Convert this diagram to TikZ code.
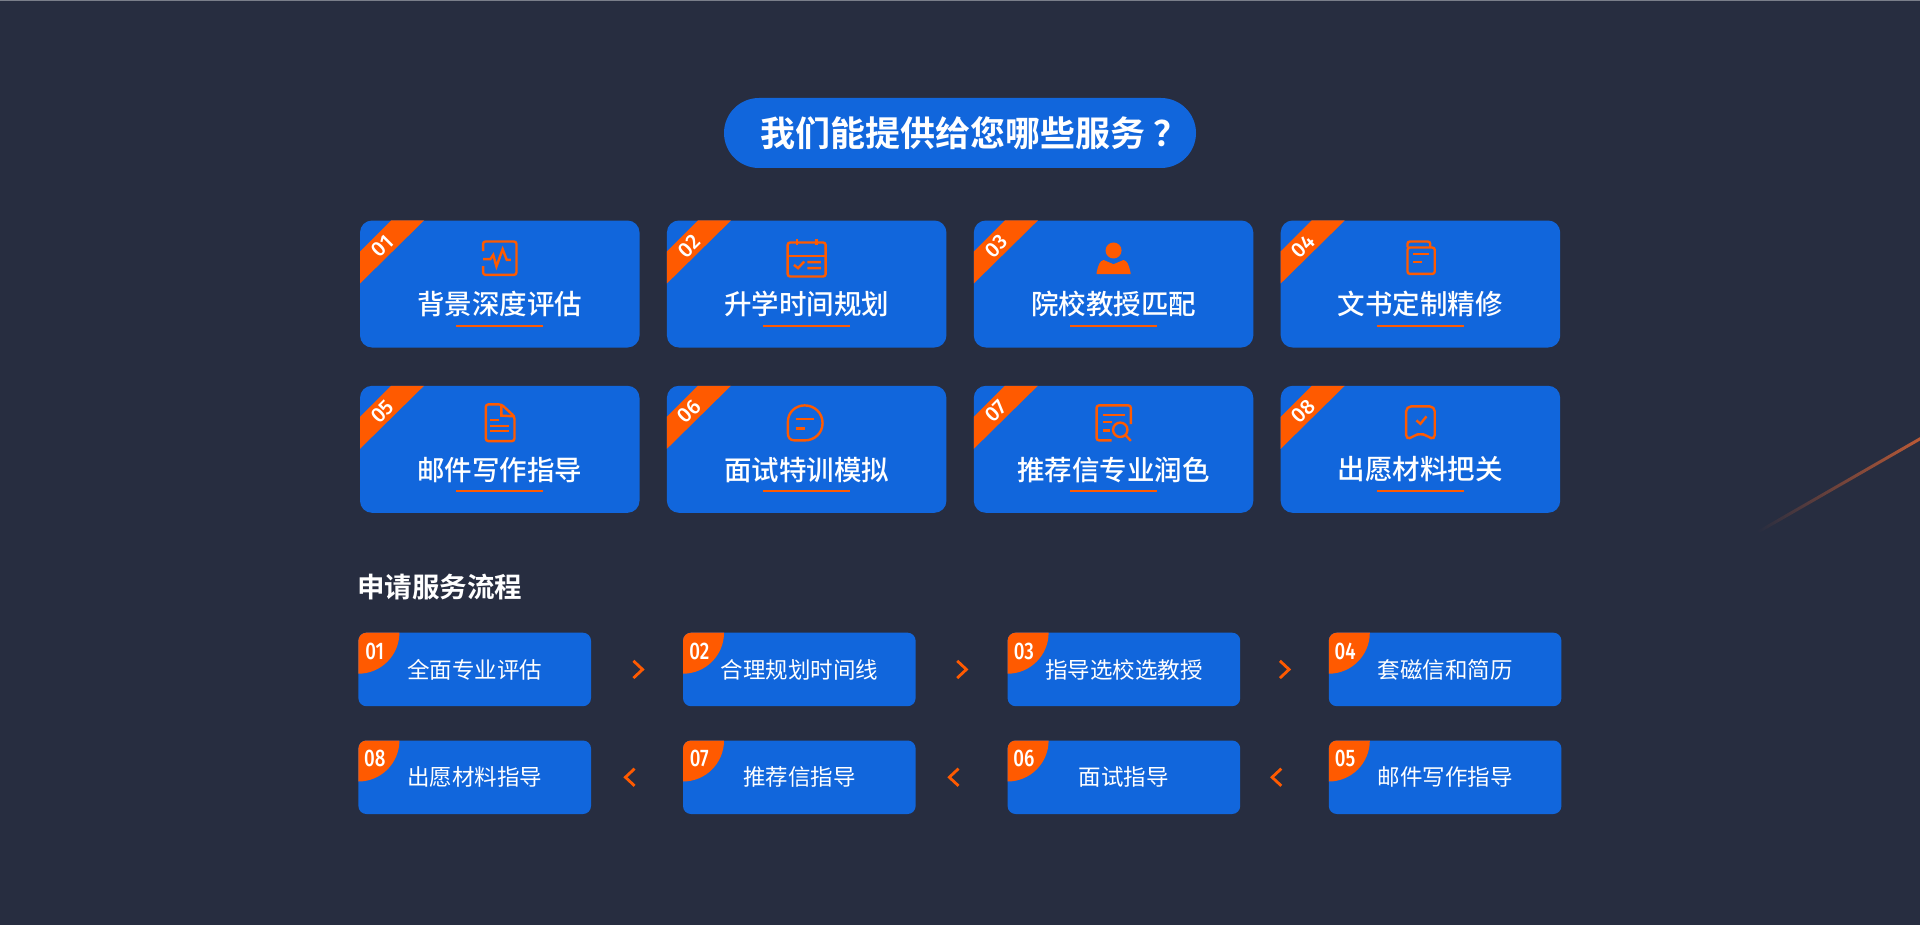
\documentclass[tikz,border=0pt]{standalone}
\usepackage{fontspec}
\usetikzlibrary{matrix, positioning}
\newfontfamily\cjkreg{Noto Sans CJK SC}
\newfontfamily\cjkmed{Noto Sans CJK SC Medium}
\newfontfamily\cjkbold{Noto Sans CJK SC Bold}
\newfontfamily\numfont[FakeStretch=0.78]{Fira Sans Medium}
\newfontfamily\ribfont{Fira Sans Medium}
\definecolor{pagebg}{HTML}{272D40}
\definecolor{pagetop}{HTML}{7A7E8A}
\definecolor{boxblue}{HTML}{1166DC}
\definecolor{hotorange}{HTML}{FF5A00}
\definecolor{streakend}{HTML}{BC5A36}
\tikzset{
  card/.style={fill=boxblue, rounded corners=12pt, minimum width=279.5pt, minimum height=127pt, inner sep=0pt, outer sep=0pt},
  stepbox/.style={fill=boxblue, rounded corners=8pt, minimum width=232.6pt, minimum height=73.5pt, inner sep=0pt, outer sep=0pt},
  cardtext/.style={text=white, inner sep=0pt, font=\cjkmed\fontsize{27.5}{27.5}\selectfont},
  steptext/.style={text=white, inner sep=0pt, font=\cjkreg\fontsize{22.5}{22.5}\selectfont},
  bandnum/.style={text=white, inner sep=0pt, rotate=45, font=\ribfont\fontsize{21}{21}\selectfont},
  stepnum/.style={text=white, inner sep=0pt, font=\numfont\fontsize{24}{24}\selectfont},
  bar/.style={draw=hotorange, line width=2.2pt},
  band/.style={fill=hotorange},
  iconline/.style={draw=hotorange, line width=2.4pt},
  icon/.style={iconline, rounded corners=2.5pt},
  chevron/.style={draw=hotorange, line width=2.8pt}
}
\begin{document}
\begin{tikzpicture}[x=1pt, y=-1pt]
\useasboundingbox (0,0) rectangle (1920,925);
\fill[pagebg] (0,0) rectangle (1920,925);
\fill[pagetop] (0,0) rectangle (1920,1);
% streak on the right edge
\begin{scope}
\clip (0,0) rectangle (1920,925);
\begin{scope}[shift={(1758,532)}, rotate=29.9]
\shade[left color=pagebg, right color=streakend] (0,-1.5) rectangle (187.5,1.5);
\end{scope}
\end{scope}
% heading
\node[fill=boxblue, rounded corners=35pt, minimum width=472pt, minimum height=70pt, inner sep=0pt] (pill) at (960,133) {};
\node[text=white, inner sep=0pt, anchor=west, font=\cjkbold\fontsize{35}{35}\selectfont] (title) at (760,133) {我们能提供给您哪些服务\hspace{8pt}？};
% service cards
\matrix (cards) [anchor=north west, inner sep=0pt, outer sep=0pt, column sep=27.4pt, row sep=38.3pt] at (360,220.5) {
\node[card](c1){}; & \node[card](c2){}; & \node[card](c3){}; & \node[card](c4){}; \\
\node[card](c5){}; & \node[card](c6){}; & \node[card](c7){}; & \node[card](c8){}; \\
};
\fill[band] ([xshift=31pt]c1.north west) -- ([xshift=64pt]c1.north west) -- ([yshift=-63pt]c1.north west) -- ([yshift=-31pt]c1.north west) -- cycle;
\fill[band] ([xshift=31pt]c2.north west) -- ([xshift=64pt]c2.north west) -- ([yshift=-63pt]c2.north west) -- ([yshift=-31pt]c2.north west) -- cycle;
\fill[band] ([xshift=31pt]c3.north west) -- ([xshift=64pt]c3.north west) -- ([yshift=-63pt]c3.north west) -- ([yshift=-31pt]c3.north west) -- cycle;
\fill[band] ([xshift=31pt]c4.north west) -- ([xshift=64pt]c4.north west) -- ([yshift=-63pt]c4.north west) -- ([yshift=-31pt]c4.north west) -- cycle;
\fill[band] ([xshift=31pt]c5.north west) -- ([xshift=64pt]c5.north west) -- ([yshift=-63pt]c5.north west) -- ([yshift=-31pt]c5.north west) -- cycle;
\fill[band] ([xshift=31pt]c6.north west) -- ([xshift=64pt]c6.north west) -- ([yshift=-63pt]c6.north west) -- ([yshift=-31pt]c6.north west) -- cycle;
\fill[band] ([xshift=31pt]c7.north west) -- ([xshift=64pt]c7.north west) -- ([yshift=-63pt]c7.north west) -- ([yshift=-31pt]c7.north west) -- cycle;
\fill[band] ([xshift=31pt]c8.north west) -- ([xshift=64pt]c8.north west) -- ([yshift=-63pt]c8.north west) -- ([yshift=-31pt]c8.north west) -- cycle;
\node[bandnum] (b1) at ([xshift=22.4pt,yshift=-25.7pt]c1.north west) {01};
\node[bandnum] (b2) at ([xshift=22.4pt,yshift=-25.7pt]c2.north west) {02};
\node[bandnum] (b3) at ([xshift=22.4pt,yshift=-25.7pt]c3.north west) {03};
\node[bandnum] (b4) at ([xshift=22.4pt,yshift=-25.7pt]c4.north west) {04};
\node[bandnum] (b5) at ([xshift=22.4pt,yshift=-25.7pt]c5.north west) {05};
\node[bandnum] (b6) at ([xshift=22.4pt,yshift=-25.7pt]c6.north west) {06};
\node[bandnum] (b7) at ([xshift=22.4pt,yshift=-25.7pt]c7.north west) {07};
\node[bandnum] (b8) at ([xshift=22.4pt,yshift=-25.7pt]c8.north west) {08};
\node[cardtext] (t1) at ([yshift=-83.8pt]c1.north) {背景深度评估};
\node[cardtext] (t2) at ([yshift=-83.8pt]c2.north) {升学时间规划};
\node[cardtext] (t3) at ([yshift=-83.8pt]c3.north) {院校教授匹配};
\node[cardtext] (t4) at ([yshift=-83.8pt]c4.north) {文书定制精修};
\node[cardtext] (t5) at ([yshift=-83.8pt]c5.north) {邮件写作指导};
\node[cardtext] (t6) at ([yshift=-83.8pt]c6.north) {面试特训模拟};
\node[cardtext] (t7) at ([yshift=-83.8pt]c7.north) {推荐信专业润色};
\node[cardtext] (t8) at ([yshift=-83.8pt]c8.north) {出愿材料把关};
\draw[bar] ([xshift=-43.5pt,yshift=-105.2pt]c1.north) -- ([xshift=43.5pt,yshift=-105.2pt]c1.north);
\draw[bar] ([xshift=-43.5pt,yshift=-105.2pt]c2.north) -- ([xshift=43.5pt,yshift=-105.2pt]c2.north);
\draw[bar] ([xshift=-43.5pt,yshift=-105.2pt]c3.north) -- ([xshift=43.5pt,yshift=-105.2pt]c3.north);
\draw[bar] ([xshift=-43.5pt,yshift=-105.2pt]c4.north) -- ([xshift=43.5pt,yshift=-105.2pt]c4.north);
\draw[bar] ([xshift=-43.5pt,yshift=-105.2pt]c5.north) -- ([xshift=43.5pt,yshift=-105.2pt]c5.north);
\draw[bar] ([xshift=-43.5pt,yshift=-105.2pt]c6.north) -- ([xshift=43.5pt,yshift=-105.2pt]c6.north);
\draw[bar] ([xshift=-43.5pt,yshift=-105.2pt]c7.north) -- ([xshift=43.5pt,yshift=-105.2pt]c7.north);
\draw[bar] ([xshift=-43.5pt,yshift=-105.2pt]c8.north) -- ([xshift=43.5pt,yshift=-105.2pt]c8.north);
% icons, each one about its own centre
\begin{scope}[shift={([yshift=-37.7pt]c1.north)}]
\draw[icon] (-16.7,-7) -- (-16.7,-16.7) -- (16.7,-16.7) -- (16.7,16.7) -- (-16.7,16.7) -- (-16.7,8);
\draw[iconline] (-16.7,1) -- (-9.4,1) -- (-6.5,-3.3) -- (-3.3,8.3) -- (2.9,-9) -- (7,1.7) -- (11,1.7);
\end{scope}
\begin{scope}[shift={([yshift=-37.7pt]c2.north)}]
\draw[icon] (-19,-15.7) rectangle (19,18.3);
\draw[iconline] (-19,-2.3) -- (19,-2.3) (-9.4,-19) -- (-9.4,-13) (9.8,-19) -- (9.8,-13);
\draw[iconline] (-12.7,6.7) -- (-8.6,10) -- (-2.4,3.3) (.8,4) -- (14.3,4) (.8,10) -- (14.3,10);
\end{scope}
\begin{scope}[shift={([yshift=-37.7pt]c3.north)}]
\fill[hotorange] (0,-7.7) ellipse (8 and 8);
\fill[hotorange] (-17,16) -- (-17,14.5) .. controls (-15,6) and (-14,3) .. (-10,1.8) -- (0,6) -- (10,1.8) .. controls (14,3) and (15,6) .. (17,14.5) -- (17,16) -- cycle;
\end{scope}
\begin{scope}[shift={([yshift=-37.7pt]c4.north)}]
\draw[icon] (-13,-10.7) rectangle (14.3,15.7);
\draw[icon] (-13,-10.7) -- (-13,-16.7) -- (9.8,-16.7) -- (9.8,-10.7);
\draw[iconline] (-7,-4.3) -- (8.6,-4.3) (-7,3.7) -- (2,3.7);
\end{scope}
\begin{scope}[shift={([yshift=-37.3pt]c5.north)}]
\draw[icon] (1.6,-18.7) -- (-13.9,-18.7) -- (-13.9,18) -- (14.7,18) -- (14.7,-6.7) -- cycle;
\draw[iconline] (1.6,-18.7) -- (1.6,-7.5) -- (14.7,-6.7);
\draw[iconline] (-9.4,-3.3) -- (-.4,-3.3) (-9.4,2.7) -- (9.4,2.7) (-9.4,8) -- (9.4,8);
\end{scope}
\begin{scope}[shift={([yshift=-37.3pt]c6.north)}]
\draw[iconline] (-18.8,-1) .. controls (-18.8,-11) and (-11,-17.7) .. (-2,-17.7) .. controls (8,-17.7) and (15.9,-10) .. (15.9,0) .. controls (15.9,10) and (8,17.3) .. (-2,17.3) -- (-12,17.3) .. controls (-17,17.3) and (-18.8,14) .. (-18.8,10) -- cycle;
\draw[iconline] (-11,-4) -- (7,-4) (-11,5.3) -- (-1.2,5.3);
\end{scope}
\begin{scope}[shift={([yshift=-37.3pt]c7.north)}]
\draw[icon] (17.3,1) -- (17.3,-17.7) -- (-17,-17.7) -- (-17,17.3) -- (-2,17.3);
\draw[iconline] (-11,-8.3) -- (11.6,-8.3) (-11,-1) -- (-1.4,-1) (-11,7.3) -- (-4,7.3);
\draw[iconline] (6.7,6.7) circle (7.2) (11.7,11.7) -- (17.3,17.8);
\end{scope}
\begin{scope}[shift={([yshift=-37.3pt]c8.north)}]
\draw[iconline, rounded corners=5pt] (-14.3,-16.7) -- (14.3,-16.7) -- (14.3,17) -- (7,13) -- (0,10) -- (-7,13) -- (-14.3,17) -- cycle;
\draw[iconline] (-4,-2.7) -- (0,.7) -- (6,-6.7);
\end{scope}
% process
\node[text=white, inner sep=0pt, anchor=west, font=\cjkbold\fontsize{27.5}{27.5}\selectfont] (flow) at (357,587.3) {申请服务流程};
\matrix (steps) [anchor=north west, inner sep=0pt, outer sep=0pt, column sep=92pt, row sep=34.3pt] at (358.4,632.7) {
\node[stepbox](p1){}; & \node[stepbox](p2){}; & \node[stepbox](p3){}; &[-3.4pt] \node[stepbox](p4){}; \\
\node[stepbox](p8){}; & \node[stepbox](p7){}; & \node[stepbox](p6){}; &[-3.4pt] \node[stepbox](p5){}; \\
};
\begin{scope}
\clip[rounded corners=8pt] (p1.north west) rectangle (p1.south east) (p2.north west) rectangle (p2.south east) (p3.north west) rectangle (p3.south east) (p4.north west) rectangle (p4.south east);
\fill[band] (p1.north west) circle (41) (p2.north west) circle (41) (p3.north west) circle (41) (p4.north west) circle (41);
\end{scope}
\begin{scope}
\clip[rounded corners=8pt] (p5.north west) rectangle (p5.south east) (p6.north west) rectangle (p6.south east) (p7.north west) rectangle (p7.south east) (p8.north west) rectangle (p8.south east);
\fill[band] (p5.north west) circle (41) (p6.north west) circle (41) (p7.north west) circle (41) (p8.north west) circle (41);
\end{scope}
\node[stepnum] (n1) at ([xshift=16.3pt,yshift=-18.3pt]p1.north west) {01};
\node[stepnum] (n2) at ([xshift=16.3pt,yshift=-18.3pt]p2.north west) {02};
\node[stepnum] (n3) at ([xshift=16.3pt,yshift=-18.3pt]p3.north west) {03};
\node[stepnum] (n4) at ([xshift=16.3pt,yshift=-18.3pt]p4.north west) {04};
\node[stepnum] (n5) at ([xshift=16.3pt,yshift=-18.3pt]p5.north west) {05};
\node[stepnum] (n6) at ([xshift=16.3pt,yshift=-18.3pt]p6.north west) {06};
\node[stepnum] (n7) at ([xshift=16.3pt,yshift=-18.3pt]p7.north west) {07};
\node[stepnum] (n8) at ([xshift=16.3pt,yshift=-18.3pt]p8.north west) {08};
\node[steptext] (s1) at (p1) {全面专业评估};
\node[steptext] (s2) at (p2) {合理规划时间线};
\node[steptext] (s3) at (p3) {指导选校选教授};
\node[steptext] (s4) at (p4) {套磁信和简历};
\node[steptext] (s5) at (p5) {邮件写作指导};
\node[steptext] (s6) at (p6) {面试指导};
\node[steptext] (s7) at (p7) {推荐信指导};
\node[steptext] (s8) at (p8) {出愿材料指导};
\coordinate (a1) at ([xshift=47pt]p1.east);
\coordinate (a2) at ([xshift=46.2pt]p2.east);
\coordinate (a3) at ([xshift=44.3pt]p3.east);
\coordinate (a5) at ([xshift=36.5pt]p6.east);
\coordinate (a6) at ([xshift=38.3pt]p7.east);
\coordinate (a7) at ([xshift=39pt]p8.east);
\draw[chevron] ([shift={(-4.6,-8.6)}]a1) -- ([shift={(4.6,0)}]a1) -- ([shift={(-4.6,8.6)}]a1);
\draw[chevron] ([shift={(-4.6,-8.6)}]a2) -- ([shift={(4.6,0)}]a2) -- ([shift={(-4.6,8.6)}]a2);
\draw[chevron] ([shift={(-4.6,-8.6)}]a3) -- ([shift={(4.6,0)}]a3) -- ([shift={(-4.6,8.6)}]a3);
\draw[chevron] ([shift={(4.6,-8.6)}]a5) -- ([shift={(-4.6,0)}]a5) -- ([shift={(4.6,8.6)}]a5);
\draw[chevron] ([shift={(4.6,-8.6)}]a6) -- ([shift={(-4.6,0)}]a6) -- ([shift={(4.6,8.6)}]a6);
\draw[chevron] ([shift={(4.6,-8.6)}]a7) -- ([shift={(-4.6,0)}]a7) -- ([shift={(4.6,8.6)}]a7);
\end{tikzpicture}
\end{document}
